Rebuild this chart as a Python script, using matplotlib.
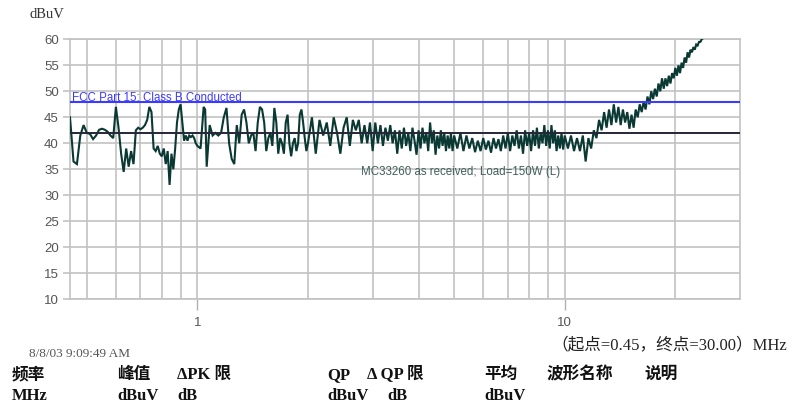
import matplotlib
matplotlib.use("Agg")
import matplotlib.pyplot as plt
from matplotlib.ticker import FixedLocator, NullFormatter

# ---------------- data ----------------
freq_a = [0.45, 0.46, 0.47, 0.48, 0.49, 0.50, 0.51, 0.52, 0.53, 0.54,
          0.55, 0.56, 0.57, 0.58, 0.59, 0.60, 0.61, 0.62, 0.63, 0.64,
          0.65, 0.66, 0.67, 0.68, 0.69, 0.70, 0.71, 0.72, 0.73, 0.74,
          0.75, 0.76, 0.77, 0.78, 0.79, 0.80, 0.81, 0.82, 0.83, 0.84,
          0.85, 0.86, 0.87, 0.88, 0.89, 0.90, 0.91, 0.92, 0.93, 0.94,
          0.95, 0.96, 0.97, 0.98, 0.99, 1.00]
level_a = [45, 36.5, 36, 41.5, 43.5, 42, 41.8, 40.8, 41.5, 42.6,
           42.8, 42.6, 42.2, 41.5, 41, 47, 43, 38, 34.5, 39,
           35.5, 38.5, 36, 42.5, 43, 42.7, 43, 43.5, 44.5, 47,
           46, 39, 38.5, 39.5, 38, 37.5, 39, 36, 38.5, 32,
           38, 35, 39, 44, 46.5, 47.5, 44, 40.5, 41.5, 40.5,
           41.5, 41.2, 41.5, 41, 40, 39.5]

freq_b = [1.02, 1.04, 1.05, 1.06, 1.08, 1.10, 1.12, 1.14, 1.16, 1.18,
          1.20, 1.22, 1.24, 1.26, 1.28, 1.30, 1.32, 1.34, 1.36, 1.38,
          1.40, 1.42, 1.44, 1.46, 1.48, 1.50, 1.52, 1.54, 1.56, 1.58,
          1.60, 1.62, 1.64, 1.66, 1.68, 1.70, 1.72, 1.74, 1.76, 1.78,
          1.80, 1.82, 1.84, 1.86, 1.88, 1.90, 1.92, 1.94, 1.96, 1.98, 2.00]
level_b = [39, 47, 46.5, 35.5, 43.5, 41.5, 42, 41.5, 42, 45,
           46.8, 40, 37, 36, 43.5, 40, 45.5, 46.5, 44, 40,
           41.5, 42, 38.5, 44, 47, 46.5, 44, 38.5, 41, 42,
           39.5, 46.8, 44, 38, 41, 40, 38, 44, 45.5, 40,
           37.5, 40, 41, 38.5, 40, 45.5, 46.5, 44, 41, 38.5, 40]

freq_c = [2.05, 2.10, 2.15, 2.20, 2.25, 2.30, 2.35, 2.40, 2.45, 2.50,
          2.55, 2.60, 2.65, 2.70, 2.75, 2.80, 2.85, 2.90, 2.95, 3.00,
          3.05, 3.10, 3.15, 3.20, 3.25, 3.30, 3.35, 3.40, 3.45, 3.50,
          3.55, 3.60, 3.65, 3.70, 3.75, 3.80, 3.85, 3.90, 3.95, 4.00,
          4.05, 4.10, 4.15, 4.20, 4.25, 4.30, 4.35, 4.40, 4.45, 4.50,
          4.55, 4.60, 4.65, 4.70, 4.75, 4.80, 4.85, 4.90, 4.95, 5.00]
level_c = [45, 38, 44.5, 41.5, 44, 39.5, 45, 42, 38, 43,
           45, 39.5, 44.5, 42.5, 44.5, 40, 43.5, 40, 44, 38.5,
           44, 40, 43.5, 39.5, 43, 40.5, 43.5, 40, 42.5, 38,
           42.5, 39, 43, 39.5, 42, 38.5, 43, 40.5, 37.8, 42.5,
           39, 43, 40, 42, 38.5, 44, 40, 42.5, 37.8, 41.5,
           39, 42.5, 39.5, 42, 38.5, 41.5, 39, 42, 38.5, 41.5]

freq_d = [5.1, 5.2, 5.3, 5.4, 5.5, 5.6, 5.7, 5.8, 5.9, 6.0,
          6.1, 6.2, 6.3, 6.4, 6.5, 6.6, 6.7, 6.8, 6.9, 7.0,
          7.1, 7.2, 7.3, 7.4, 7.5, 7.6, 7.7, 7.8, 7.9, 8.0,
          8.1, 8.2, 8.3, 8.4, 8.5, 8.6, 8.7, 8.8, 8.9, 9.0,
          9.1, 9.2, 9.3, 9.4, 9.5, 9.6, 9.7, 9.8, 9.9, 10.0]
level_d = [39, 42, 38.5, 41.5, 39, 41, 38.3, 40.5, 38.5, 41,
           38.8, 40.5, 38.2, 41, 39, 40.8, 38.5, 41.5, 39, 42,
           38.5, 41.5, 39.5, 42.5, 39, 41.5, 38, 42.5, 39.5, 42,
           38.5, 42.5, 39.5, 43, 39, 42, 40, 43.5, 39.5, 42.5,
           39, 43.5, 40, 42.5, 38.5, 41.5, 39, 42, 38.8, 41.5]

freq_e = [10.2, 10.4, 10.6, 10.8, 11.0, 11.2, 11.4, 11.6, 11.8, 12.0,
          12.2, 12.4, 12.6, 12.8, 13.0, 13.2, 13.4, 13.6, 13.8, 14.0,
          14.2, 14.4, 14.6, 14.8, 15.0, 15.2, 15.4, 15.6, 15.8, 16.0,
          16.2, 16.4, 16.6, 16.8, 17.0, 17.2, 17.4, 17.6, 17.8, 18.0,
          18.2, 18.4, 18.6, 18.8, 19.0, 19.2, 19.4, 19.6, 19.8, 20.0,
          20.2, 20.4, 20.6, 20.8, 21.0, 21.2, 21.4, 21.6, 21.8, 22.0,
          22.2, 22.4, 22.6, 22.8, 23.0, 23.2, 23.4, 23.6, 23.8, 24.0,
          24.2, 24.4]
level_e = [39, 41.5, 38.5, 41, 38.5, 41.5, 36.5, 41, 39, 42.5,
           41, 44.5, 42.5, 46, 43, 46.5, 43.5, 47.5, 44, 47,
           43.5, 46.5, 44, 46, 42.8, 45.5, 43, 46.5, 45, 47.5,
           46, 48, 46.5, 49, 47.5, 50, 48.5, 50.5, 49, 51.5,
           50, 52.5, 50.5, 52.5, 51, 53, 51.5, 53.5, 52.5, 54.5,
           53, 55, 53.5, 55.5, 54.5, 56.5, 55.5, 57.5, 56.5, 58,
           57.5, 58.5, 58, 59, 58.8, 59.5, 59.5, 60, 60.2, 60.6,
           61, 61.5]

limit_fcc = 48.0
limit_ref = 41.9
y_ticks = [10, 15, 20, 25, 30, 35, 40, 45, 50, 55, 60]
x_major = [1, 10]
x_major_labels = ["1", "10"]
x_minor = [0.5, 0.6, 0.7, 0.8, 0.9, 2, 3, 4, 5, 6, 7, 8, 9, 20]

freq = freq_a + freq_b + freq_c + freq_d + freq_e
level = level_a + level_b + level_c + level_d + level_e

# ---------------- figure ----------------
W, H = 790, 408
fig = plt.figure(figsize=(W / 100, H / 100), dpi=100)
fig.patch.set_facecolor("white")
ax = fig.add_axes([70 / W, 1 - 299.3 / H, (740 - 70) / W, (299.3 - 39.3) / H])

grid_c = "#c2c2c2"
ax.set_xscale("log")
ax.set_xlim(0.45, 30)
ax.set_ylim(10, 60)

ax.plot(freq, level, color="#0a3832", lw=1.5, zorder=3, solid_joinstyle="miter")
ax.axhline(limit_fcc, color="#3b3bff", lw=1.5, zorder=4)
ax.axhline(limit_ref, color="#262638", lw=1.4, zorder=4)

ax.xaxis.set_major_locator(FixedLocator(x_major))
ax.set_xticklabels(x_major_labels)
ax.xaxis.set_minor_locator(FixedLocator(x_minor))
ax.xaxis.set_minor_formatter(NullFormatter())
ax.set_yticks(y_ticks)

ax.grid(True, which="both", axis="x", color=grid_c, lw=1.2, zorder=0)
ax.grid(True, which="major", axis="y", color=grid_c, lw=1.2, zorder=0)
ax.set_axisbelow(True)

for sp in ax.spines.values():
    sp.set_color(grid_c)
    sp.set_linewidth(1.2)

ax.tick_params(axis="x", which="major", length=8, width=1.0, color="#b0b0b0",
               pad=5, labelsize=9.5, labelcolor="#555555")
ax.tick_params(axis="x", which="minor", length=0)
ax.tick_params(axis="y", which="major", length=5, width=1.2, color=grid_c,
               pad=3, labelsize=9.5, labelcolor="#555555")
for lab in ax.get_xticklabels() + ax.get_yticklabels():
    lab.set_family("Liberation Sans")

ax.text(0.456, limit_fcc + 0.3, "FCC Part 15; Class B Conducted", color="#3b3bff",
        fontsize=8.3, family="Liberation Sans", va="baseline", ha="left", zorder=5)
ax.text(2.79, 34.5, "MC33260 as received; Load=150W (L)", color="#3f5f5a",
        fontsize=8.3, family="Liberation Sans", va="center", ha="left", zorder=5)

def ftext(x, y, s, **kw):
    fig.text(x / W, 1 - y / H, s, **kw)

serif_cjk = ["Liberation Serif", "Noto Sans CJK SC", "DejaVu Sans"]

ftext(29, 14, "dBuV", family="Liberation Serif", fontsize=10.5, color="#333333",
      va="center", ha="left")
ftext(29, 354, "8/8/03 9:09:49 AM", family="Liberation Serif", fontsize=9.5,
      color="#555555", va="center", ha="left")
ftext(787, 345, "（起点=0.45，终点=30.00）MHz", family=serif_cjk, fontsize=12,
      color="#222222", va="center", ha="right")

hdr = dict(family=serif_cjk, fontsize=12, fontweight="bold", color="#111111",
           va="center", ha="left")
row1_y, row2_y = 375, 396
ftext(12, row1_y, "频率", **hdr)
ftext(117, row1_y, "峰值", **hdr)
ftext(177, row1_y, "ΔPK 限", **hdr)
ftext(327, row1_y, "QP", **hdr)
ftext(367, row1_y, "Δ QP 限", **hdr)
ftext(484, row1_y, "平均", **hdr)
ftext(547, row1_y, "波形名称", **hdr)
ftext(644, row1_y, "说明", **hdr)
ftext(12, row2_y, "MHz", **hdr)
ftext(117, row2_y, "dBuV", **hdr)
ftext(177, row2_y, "dB", **hdr)
ftext(327, row2_y, "dBuV", **hdr)
ftext(387, row2_y, "dB", **hdr)
ftext(484, row2_y, "dBuV", **hdr)

fig.savefig("out.png", dpi=100, facecolor="white")
